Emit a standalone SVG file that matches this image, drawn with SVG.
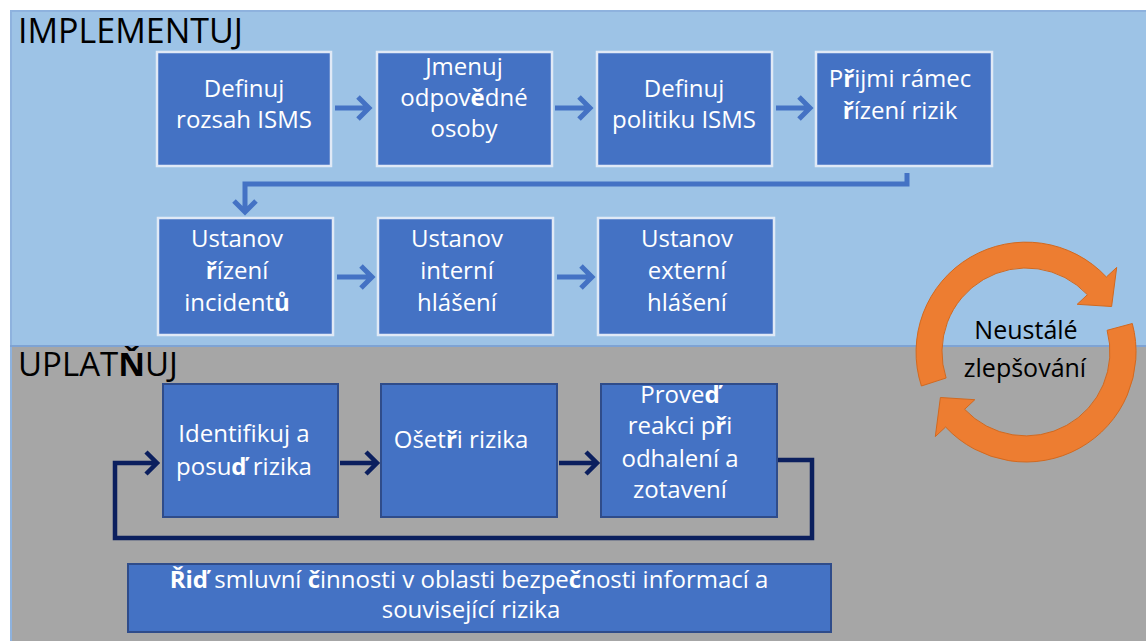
<svg xmlns="http://www.w3.org/2000/svg" width="1146" height="641" viewBox="0 0 1146 641">
  <defs>
    <style>
      .t { font-family: "Open Sans", "Noto Sans", "DejaVu Sans", sans-serif; fill: #ffffff; font-size: 24px; text-anchor: middle; }
      .h { font-family: "Open Sans", "Noto Sans", "DejaVu Sans", sans-serif; fill: #000000; font-size: 34px; }
      .c { font-family: "Open Sans", "Noto Sans", "DejaVu Sans", sans-serif; fill: #000000; font-size: 25px; text-anchor: middle; }
      .b { font-weight: bold; }
      .boxL { fill: #4472C4; stroke: #E0E9F6; stroke-width: 2.5; }
      .boxD { fill: #4472C4; stroke: #2F4C8A; stroke-width: 2; }
      .conL { fill: none; stroke: #4472C4; stroke-width: 5; stroke-linejoin: miter; }
      .conD { fill: none; stroke: #0B1F5E; stroke-width: 4.5; stroke-linejoin: miter; }
      .ring { fill: #ED7D31; stroke: #D2691F; stroke-width: 1; }
    </style>
  </defs>

  <!-- background panels -->
  <rect x="0" y="0" width="1146" height="641" fill="#ffffff"/>
  <rect x="10" y="10" width="1136" height="336" fill="#9DC3E6"/>
  <rect x="10" y="346" width="1136" height="295" fill="#A6A6A6"/>
  <line x1="10" y1="11" x2="1146" y2="11" stroke="#8EB2DE" stroke-width="2"/>
  <line x1="11" y1="10" x2="11" y2="641" stroke="#8EB2DE" stroke-width="2"/>
  <line x1="10" y1="346" x2="1146" y2="346" stroke="#7EA3D4" stroke-width="2"/>

  <text class="h" x="18" y="43">IMPLEMENTUJ</text>
  <text class="h" x="18" y="376" style="font-size:33px">UPLAT<tspan class="b">Ň</tspan>UJ</text>

  <!-- connectors -->
  <g id="connectors">
    <path class="conL" d="M335,108 H370 M358,97 L369,108 L358,119"/>
    <path class="conL" d="M555,108 H591 M579,97 L590,108 L579,119"/>
    <path class="conL" d="M776,108 H811 M799,97 L810,108 L799,119"/>
    <path class="conL" d="M907,173 V184 H245 V212 M234,201 L245,212 L256,201"/>
    <path class="conL" d="M337,277 H373 M361,266 L372,277 L361,288"/>
    <path class="conL" d="M557,277 H593 M581,266 L592,277 L581,288"/>
    <path class="conD" d="M340,463 H377 M366,452 L377,463 L366,474"/>
    <path class="conD" d="M559,463 H597 M586,452 L597,463 L586,474"/>
    <path class="conD" d="M777,460 H812 V538 H115 V463 H157 M146,452 L157,463 L146,474"/>
  </g>

  <!-- top row -->
  <g id="n1">
    <rect class="boxL" x="157" y="52" width="174" height="114"/>
    <text class="t" x="244" y="97">Definuj</text>
    <text class="t" x="244" y="128">rozsah ISMS</text>
  </g>
  <g id="n2">
    <rect class="boxL" x="377" y="52" width="175" height="114"/>
    <text class="t" x="464" y="75">Jmenuj</text>
    <text class="t" x="464" y="106">odpov<tspan class="b">ě</tspan>dné</text>
    <text class="t" x="464" y="137">osoby</text>
  </g>
  <g id="n3">
    <rect class="boxL" x="597" y="52" width="175" height="114"/>
    <text class="t" x="684" y="97">Definuj</text>
    <text class="t" x="684" y="128">politiku ISMS</text>
  </g>
  <g id="n4">
    <rect class="boxL" x="816" y="52" width="176" height="114"/>
    <text class="t" x="900" y="87">P<tspan class="b">ř</tspan>ijmi rámec</text>
    <text class="t" x="900" y="119"><tspan class="b">ř</tspan>ízení rizik</text>
  </g>

  <!-- second row -->
  <g id="n5">
    <rect class="boxL" x="158" y="218" width="175" height="117"/>
    <text class="t" x="237" y="247">Ustanov</text>
    <text class="t" x="237" y="279"><tspan class="b">ř</tspan>ízení</text>
    <text class="t" x="237" y="311">incident<tspan class="b">ů</tspan></text>
  </g>
  <g id="n6">
    <rect class="boxL" x="378" y="218" width="175" height="117"/>
    <text class="t" x="457" y="247">Ustanov</text>
    <text class="t" x="457" y="279">interní</text>
    <text class="t" x="457" y="311">hlášení</text>
  </g>
  <g id="n7">
    <rect class="boxL" x="598" y="218" width="176" height="117"/>
    <text class="t" x="687" y="247">Ustanov</text>
    <text class="t" x="687" y="279">externí</text>
    <text class="t" x="687" y="311">hlášení</text>
  </g>

  <!-- lower row -->
  <g id="n8">
    <rect class="boxD" x="163" y="384" width="175" height="133"/>
    <text class="t" x="244" y="442">Identifikuj a</text>
    <text class="t" x="244" y="475">posu<tspan class="b">ď</tspan> rizika</text>
  </g>
  <g id="n9">
    <rect class="boxD" x="381" y="384" width="176" height="133"/>
    <text class="t" x="461" y="448">Oše<tspan>t</tspan><tspan class="b">ř</tspan>i rizika</text>
  </g>
  <g id="n10">
    <rect class="boxD" x="601" y="384" width="176" height="133"/>
    <text class="t" x="680" y="403">Prove<tspan class="b">ď</tspan></text>
    <text class="t" x="680" y="434">reakci p<tspan class="b">ř</tspan>i</text>
    <text class="t" x="680" y="467">odhalení a</text>
    <text class="t" x="680" y="498">zotavení</text>
  </g>
  <g id="n11">
    <rect class="boxD" x="128" y="564" width="703" height="68"/>
    <text class="t" x="469" y="588"><tspan class="b">Řiď</tspan> smluvní <tspan class="b">č</tspan>innosti v oblasti bezpe<tspan class="b">č</tspan>nosti informací a</text>
    <text class="t" x="471" y="618">související rizika</text>
  </g>

  <!-- improvement cycle -->
  <g id="cycle">
    <path class="ring" d="M921.4,386 A110,110 0 0 1 1106.4,277 L1116.7,267.4 L1111.6,306.5 L1077.2,304.3 L1087.4,294.7 A84,84 0 0 0 946.1,378 Z"/>
    <path class="ring" d="M1132.3,323.5 A110,110 0 0 1 945.6,427 L935.3,436.6 L940.4,397.5 L974.8,399.7 L964.6,409.3 A84,84 0 0 0 1107.1,330.3 Z"/>
    <text class="c" x="1026" y="339">Neustálé</text>
    <text class="c" x="1025" y="377">zlepšování</text>
  </g>
</svg>
